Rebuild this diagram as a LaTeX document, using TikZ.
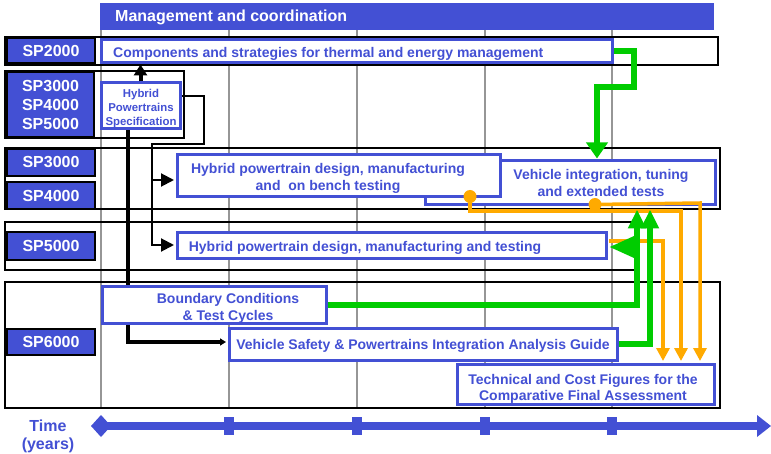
\documentclass[tikz,border=0pt]{standalone}
\usepackage{fontspec}
\setmainfont{Liberation Sans}
\usetikzlibrary{arrows.meta,calc,fit}
\definecolor{bblue}{RGB}{67,80,212}
\definecolor{ggreen}{RGB}{0,204,0}
\definecolor{oorange}{RGB}{255,170,0}
\definecolor{ggrey}{RGB}{150,150,150}
\pgfdeclarelayer{back}
\pgfdeclarelayer{mid}
\pgfsetlayers{back,mid,main}
\begin{document}
\begin{tikzpicture}[x=1pt,y=-1pt,
  rowline/.style={draw=black,line width=2pt},
  gridline/.style={draw=ggrey,line width=2pt},
  lab/.style={draw=black,line width=2pt,fill=bblue,text=white,font=\fontsize{16}{19}\selectfont\bfseries,inner sep=0pt,align=center,minimum width=88pt},
  box/.style={draw=bblue,line width=3pt,fill=white,inner sep=0pt},
  txt/.style={text=bblue,font=\fontsize{14}{17}\selectfont\bfseries,align=center,inner sep=0pt,yshift=-2pt},
  blk/.style={draw=black,line width=2pt},
  blktip/.style={-{Triangle[length=13pt,width=13pt]}},
  grn/.style={draw=ggreen,line width=6pt,-{Triangle[length=19pt,width=17pt]}},
  org/.style={draw=oorange,line width=3.5pt,-{Triangle[length=13pt,width=13pt]}},
]
\useasboundingbox (0,0) rectangle (771,454);
\begin{pgfonlayer}{back}
\fill[white] (0,0) rectangle (771,454);
\foreach \x in {101,229,357,485,612} \draw[gridline] (\x,30) -- (\x,408);
\draw[rowline] (5,37) rectangle (718,65);
\draw[rowline] (5,71) rectangle (184,138);
\draw[rowline] (5,148) rectangle (720,209);
\draw[rowline] (5,222) rectangle (636,270);
\draw[rowline] (5,282) rectangle (720,408);
\end{pgfonlayer}

% management bar
\node[fill=bblue,inner sep=0pt,fit={(100,3) (714,30)}] (mgmt) {};
\node[anchor=west,text=white,font=\fontsize{16}{19}\selectfont\bfseries,inner sep=0pt] (mgmtt) at (115,17) {Management and coordination};

% row labels
\node[lab,minimum height=25pt] (sp2) at (51,50.5) {SP2000};
\node[lab,minimum height=65pt,minimum width=87pt] (sp345) at (50.5,104.5) {SP3000\\SP4000\\SP5000};
\node[lab,minimum height=27pt] (sp3) at (51,162.5) {SP3000};
\node[lab,minimum height=27pt] (sp4) at (51,195.5) {SP4000};
\node[lab,minimum height=28pt] (sp5) at (51,246) {SP5000};
\node[lab,minimum height=26pt] (sp6) at (51,342) {SP6000};

% boxes
\node[box,fit={(101,40) (612,63)}] (comp) {};
\node[txt,anchor=west] (compt) at (113,52) {Components and strategies for thermal and energy management};
\node[box,fit={(101,83) (180,129)}] (spec) {};
\node[txt,font=\fontsize{11.4}{14}\selectfont\bfseries] (spect) at (141,107) {Hybrid\\Powertrains\\Specification};
\node[box,fit={(425,161) (715,205)}] (veh) {};
\node[txt] (veht) at (601,181) {Vehicle integration, tuning\\and extended tests};
\node[box,fit={(177,155) (500,197)}] (d1) {};
\node[txt] (d1t) at (328,176) {Hybrid powertrain design, manufacturing\\and\ \ on bench testing};
\node[box,fit={(177,233) (606,259)}] (d2) {};
\node[txt] (d2t) at (365,246) {Hybrid powertrain design, manufacturing and testing};
\node[box,fit={(102,287) (326,324)}] (bnd) {};
\node[txt] (bndt) at (228,306) {Boundary Conditions\\\& Test Cycles};
\node[box,fit={(229,328) (617,360)}] (saf) {};
\node[txt] (saft) at (423,344) {Vehicle Safety \& Powertrains Integration Analysis Guide};
\node[box,fit={(457,364) (714,404)}] (tech) {};
\node[txt,font=\fontsize{14}{16}\selectfont\bfseries] (techt) at (583,387) {Technical and Cost Figures for the\\Comparative Final Assessment};

% black connectors
\begin{pgfonlayer}{mid}
\draw[blk,line width=3.5pt,-{Triangle[length=6pt,width=7pt]}] ($(spec.south)+(-12.5,0)$) |- ($(saf.west)+(-1.5,-2)$);
\end{pgfonlayer}
\draw[blk,line width=4pt,-{Triangle[length=11pt,width=13pt]}] (spec.north) -- (spec.north |- comp.south);
\draw[blk,blktip] ($(spec.east)+(0,-10)$) -| (204,144) -| (152,245) -- ($(d2.west)+(-1.5,-1)$);
\draw[blk,blktip] (152,180) -- ($(d1.west)+(-1.5,4)$);

% orange connectors
\coordinate (o1) at ($(d1.south)+(131.5,-2)$);
\coordinate (o2) at ($(veh.south)+(25,-2)$);
\draw[org] (o1) |- (681,211) -- ($(tech.north)+(95.5,-1.5)$);
\draw[org] (o2) -- (700,203) -- ($(tech.north)+(114.5,-1.5)$);
\draw[org] ($(d2.east)+(1.5,-5)$) -| ($(tech.north)+(77.5,-1.5)$);
\fill[oorange] (o1) circle (6.5pt);
\fill[oorange] (o2) circle (6.5pt);

% green connectors
\draw[grn,-{Triangle[length=16pt,width=21pt]}] (comp.east) -| (634,87) -| ($(veh.north)+(27,-1)$);
\draw[grn] (bnd.east) -| ($(veh.south)+(67,3)$);
\draw[grn] (saf.east) -| ($(veh.south)+(80,3)$);
\draw[grn,-{Triangle[length=25pt,width=20pt]}] (637,247) -- ($(d2.east)+(1.5,1)$);

% time axis
\fill[bblue] (101,422) rectangle (758,430);
\fill[bblue] (91,426) -- (101,415) -- (111,426) -- (101,437) -- cycle;
\foreach \x in {229,357,485,612} \fill[bblue] (\x-5,417) rectangle (\x+5,435);
\fill[bblue] (757,415) -- (771,426) -- (757,437) -- cycle;
\node[txt,font=\fontsize{16}{18}\selectfont\bfseries] (time) at (48,434) {Time\\(years)};
\end{tikzpicture}
\end{document}
